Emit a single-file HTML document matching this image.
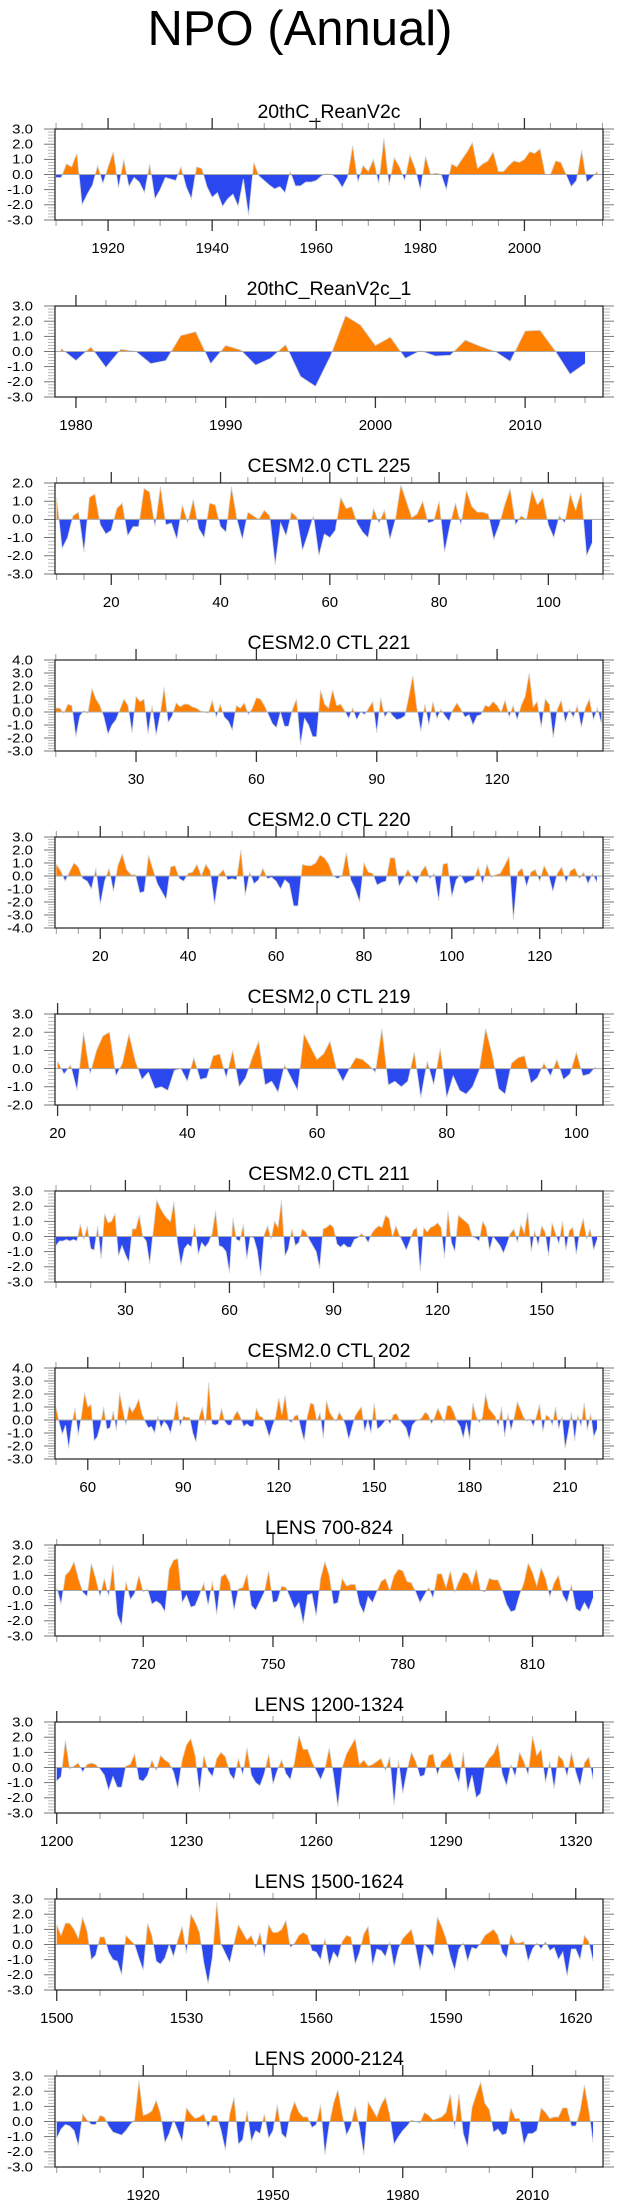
<!DOCTYPE html>
<html><head><meta charset="utf-8"><title>NPO (Annual)</title>
<style>
html,body{margin:0;padding:0;background:#fff;}
svg{display:block;font-family:"Liberation Sans",Arial,sans-serif;}
</style></head>
<body>
<svg id="chart" width="623" height="2209" viewBox="0 0 623 2209" xmlns="http://www.w3.org/2000/svg">
<text x="300" y="45" font-size="49" text-anchor="middle" fill="#000">NPO (Annual)</text>
</svg>
<script>
const panelTitles = ["20thC_ReanV2c","20thC_ReanV2c_1","CESM2.0 CTL 225","CESM2.0 CTL 221","CESM2.0 CTL 220","CESM2.0 CTL 219","CESM2.0 CTL 211","CESM2.0 CTL 202","LENS 700-824","LENS 1200-1324","LENS 1500-1624","LENS 2000-2124"];
const panelStarts = [1910,1979,10,10,10,20,10,50,700,1200,1500,1900];
const panelXMin = [1909.8,1978.6,9.7,9.8,9.7,19.6,9.7,49.7,699.6,1199.6,1499.6,1899.6];
const panelXMax = [2015.1,2015.2,110,146.4,134.4,104.1,167.7,221.9,826.3,1326.3,1626.3,2026.3];
const panelYMin = [-3,-3,-3,-3,-4,-2,-3,-3,-3,-3,-3,-3];
const panelYMax = [3,3,2,4,3,3,3,4,3,3,3,3];
const panelMajorStep = [20,10,20,30,20,20,30,30,30,30,30,30];
const panelMinorStep = [5,2,5,10,5,5,10,10,10,10,10,10];

const reanV2cValues = [-0.2,-0.2,0.7,0.5,1.4,-2.0,-1.3,-0.7,0.6,-0.6,0.5,1.5,-0.9,1.0,-0.8,-0.2,-0.5,-1.2,0.7,-1.6,-1.0,-0.2,-0.3,-0.4,0.5,-0.8,-1.6,0.5,0.4,-0.8,-1.5,-1.2,-2.1,-1.6,-1.3,-2.1,-0.3,-2.7,0.8,-0.1,-0.4,-0.7,-0.95,-0.8,-1.2,0.2,-0.75,-0.75,-0.5,-0.5,-0.4,-0.1,0.05,0.0,-0.3,-0.85,-0.2,1.9,-0.5,0.6,0.2,1.0,-0.6,2.4,-0.7,1.1,0.5,-0.4,1.3,0.4,-1.0,1.2,0.0,0.1,0.0,-1.0,0.7,0.5,1.0,1.5,2.1,0.4,0.7,0.9,1.5,0.2,0.2,0.6,0.9,0.8,1.0,1.5,1.4,1.7,0.0,0.0,0.9,0.8,0.0,-0.8,-0.4,1.6,-0.5,-0.2,0.2];
const reanV2c1Values = [0.2,-0.6,0.3,-1.05,0.15,0.0,-0.8,-0.6,1.05,1.3,-0.8,0.4,0.1,-0.9,-0.45,0.45,-1.65,-2.3,-0.3,2.35,1.75,0.4,0.95,-0.45,0.05,-0.3,-0.25,0.75,0.35,0.0,-0.65,1.35,1.4,0.05,-1.5,-0.8];
const ctl225Values = [1.2,-1.6,-1.0,0.2,0.4,-1.8,1.2,1.4,-0.3,-0.8,-0.6,0.6,0.9,-0.9,-0.4,-0.4,1.7,1.5,-0.4,1.8,-0.3,-0.2,-1.1,0.8,-0.2,1.1,-0.5,-1.0,0.9,0.8,-0.4,-0.7,1.8,0.0,-1.1,0.4,0.2,0.0,0.5,0.2,-2.5,-0.2,-0.9,0.4,0.1,-1.7,-0.8,0.2,-2.0,-0.8,-1.0,-0.6,1.2,0.6,0.7,-0.2,-0.7,-1.0,0.6,-0.2,0.5,-1.1,0.0,1.9,1.0,0.1,0.3,1.0,-0.2,-0.1,1.0,-1.8,-0.3,0.9,-0.3,1.6,0.7,0.4,0.4,0.3,-1.1,-0.3,0.8,1.7,-0.3,0.2,0.0,1.6,0.8,1.2,-0.3,-1.0,0.2,-0.2,1.4,0.5,1.5,-2.0,-1.3];
const ctl221Values = [0.3,0.3,-0.1,0.6,0.5,-1.9,-0.3,0.1,-0.1,1.8,1.0,0.5,-0.4,-1.7,-1.0,-0.6,0.2,1.0,0.5,-1.6,1.2,0.8,1.0,-1.7,0.5,-1.8,-0.2,1.9,-0.8,-0.3,0.7,0.4,0.6,0.6,0.4,0.3,0.1,0.0,-0.1,0.9,-0.4,0.6,-0.4,-0.7,-1.4,0.5,0.3,0.7,-0.2,0.3,1.1,1.0,0.5,-0.2,-0.9,-1.2,0.0,-1.1,-1.1,0.2,1.0,-2.5,-0.5,-1.0,-1.9,-1.9,1.7,0.6,0.3,1.7,0.5,0.6,0.1,-0.5,0.3,-0.6,0.0,-0.2,0.3,0.8,-1.6,1.1,-0.4,0.1,-0.3,-0.6,-0.5,-0.3,1.2,2.8,0.3,-1.5,0.6,-1.0,0.8,-0.5,0.2,-0.3,-0.7,0.2,0.7,0.2,-0.4,-0.2,-1.0,-0.3,-0.2,0.5,0.4,0.8,0.5,0.0,0.9,-0.4,0.5,-0.6,0.5,1.2,3.0,0.4,0.8,-1.2,1.0,0.6,-2.0,0.2,0.9,-0.8,0.2,-0.4,0.5,-1.2,0.3,1.0,-0.6,0.3,-0.9];
const ctl220Values = [0.9,0.4,-0.4,0.3,1.0,0.7,-0.2,-0.4,-1.0,0.6,-2.2,-0.4,0.6,-1.2,0.8,1.7,0.5,0.1,0.1,-1.3,-1.2,1.6,0.5,-0.6,-1.2,-1.8,0.7,0.8,-0.2,-0.4,0.2,0.3,0.9,0.0,0.9,0.4,-2.2,0.1,0.5,-0.3,-0.2,-0.3,2.0,-1.5,0.3,-0.6,-0.3,0.6,-0.2,-0.1,-0.4,-1.0,-0.3,-0.6,-2.3,-2.3,0.9,0.8,0.8,1.0,1.6,1.4,0.9,0.0,-0.2,0.0,1.8,-0.3,-1.0,-2.0,1.0,0.3,0.2,-0.7,-0.5,-0.4,1.4,1.4,-0.8,-0.2,0.5,-0.1,-0.6,0.3,0.8,-0.2,0.2,-1.9,0.9,1.0,-1.6,-0.3,0.1,-0.6,-0.4,-0.3,0.7,-0.6,0.9,-0.1,0.1,0.2,0.8,1.5,-3.4,0.3,0.6,-0.8,0.3,0.5,-0.4,0.8,0.1,-1.2,0.2,0.7,-0.5,0.4,0.6,-0.2,0.3,-0.6,0.2,-0.5];
const ctl219Values = [0.4,-0.3,0.2,-1.2,2.0,-0.3,1.0,1.8,2.0,-0.4,0.3,1.9,0.4,-0.6,-0.2,-1.1,-1.0,-1.2,-0.1,0.0,-0.7,0.6,-0.6,-0.5,0.7,0.8,-0.5,1.0,-1.0,-0.5,0.6,1.5,-0.9,-0.7,-1.3,0.2,-0.5,-1.2,1.9,1.2,0.5,0.8,1.5,0.0,-0.7,0.0,0.6,0.5,0.2,-0.2,2.2,-0.9,-0.7,-1.0,-0.7,0.9,-1.6,0.4,-0.9,1.1,-1.6,-0.4,-1.2,-1.4,-1.0,-0.1,2.2,0.8,-1.1,-1.4,0.3,0.6,0.7,-0.8,-0.5,0.3,-0.4,0.5,-0.6,-0.3,0.9,-0.4,-0.3,0.1];
const ctl211Values = [-0.6,-0.3,-0.3,-0.2,-0.3,-0.2,-0.3,0.8,-0.2,0.7,-0.8,-0.9,0.7,-1.5,1.5,0.9,1.0,1.5,-1.3,-0.6,-1.2,-1.7,0.5,0.5,1.4,0.0,-0.3,-1.8,0.3,2.4,1.9,1.5,1.2,1.0,2.3,-0.4,-1.9,-0.8,-0.5,-0.7,0.8,-1.2,-0.4,-0.7,-0.4,0.2,1.7,-0.6,-0.7,-1.0,-2.4,1.2,-0.2,-0.3,0.8,-1.5,0.0,-0.1,-0.9,-2.6,0.1,0.7,-0.2,1.0,0.6,2.4,-1.3,-0.8,0.5,-0.6,-0.4,0.5,0.3,-0.2,-0.6,-1.0,-2.1,0.5,0.6,0.8,0.6,-0.5,-0.7,-0.5,-0.7,-0.7,-0.2,-0.1,0.2,0.0,-0.4,0.2,0.5,0.7,0.6,1.4,1.2,0.0,0.7,0.1,-0.4,-0.9,-0.3,0.4,0.6,-2.3,0.6,0.3,0.6,0.7,0.9,0.6,-1.4,1.7,-0.4,-1.0,1.4,1.2,1.0,0.8,0.0,-0.1,-0.3,1.0,0.6,-0.9,0.0,-0.3,-0.6,-1.1,-0.5,0.2,0.5,-0.4,0.8,0.2,1.6,-1.0,0.4,-0.6,0.7,0.3,-1.3,0.9,0.2,-0.5,1.0,-0.9,0.4,0.6,-1.2,0.3,1.2,-0.2,0.5,-0.9,-0.2];
const ctl202Values = [1.0,-0.2,-1.1,-0.4,-2.2,-0.3,0.9,-1.2,0.3,2.1,1.0,1.2,-1.6,-1.3,-0.4,1.0,-0.7,-0.6,0.7,-0.8,2.1,0.8,-0.4,1.1,0.6,1.0,1.6,0.5,-0.1,-0.6,-0.5,-1.0,0.3,-0.6,-0.1,-0.4,-1.0,0.1,1.5,-0.5,0.3,0.2,0.2,-1.0,-1.7,0.2,1.0,-0.4,2.9,-0.3,-0.4,-0.3,0.9,-0.1,-0.4,-0.4,0.3,0.7,0.2,-0.5,-0.3,-0.5,-0.5,0.9,0.3,0.2,-0.5,-1.3,-0.5,0.2,1.7,0.4,1.9,0.0,-0.2,0.3,0.4,-0.7,-1.6,0.3,1.3,1.2,-0.1,0.6,-1.4,1.5,0.6,0.2,-0.1,0.6,0.2,-0.4,-1.5,-0.6,0.3,0.7,1.0,-0.9,0.0,-1.0,1.3,-0.7,-0.5,-0.2,0.1,-0.3,0.4,0.5,0.0,-0.3,-0.6,-1.5,-0.4,-0.1,0.0,0.2,0.6,0.4,-0.3,0.2,0.9,0.4,-0.2,1.1,1.1,0.6,-0.1,-0.5,-1.4,-0.2,-1.5,1.3,0.3,-0.2,0.2,2.0,0.9,0.6,0.3,-0.5,1.0,-1.3,0.5,-0.8,0.2,1.4,0.8,0.2,-0.1,0.1,-0.5,0.3,1.2,-0.9,0.4,0.2,-0.4,1.0,-0.7,0.3,-2.2,-0.9,0.6,-1.6,0.4,-0.5,1.3,-0.8,0.5,-1.3,-0.7];
const lens700Values = [0.2,-0.9,1.0,1.3,1.9,0.8,-0.1,-0.4,1.8,0.8,-0.4,0.8,-0.4,1.7,-1.6,-2.3,0.6,-0.6,-0.2,1.0,-0.1,0.1,-0.9,-0.7,-0.9,-1.4,1.4,2.0,2.1,-0.8,-0.3,-1.1,-1.0,-0.3,0.5,-1.0,0.6,-1.6,0.9,1.1,0.5,-1.3,0.1,0.2,1.1,-1.0,-1.3,-0.7,-0.1,1.3,-0.8,-0.7,0.3,0.2,-0.5,-1.2,-0.8,-2.2,-0.3,-0.2,-1.7,0.8,1.9,1.0,-0.9,-0.8,0.8,0.3,0.4,0.4,-0.9,-1.5,-0.4,-0.8,-0.1,0.6,0.8,0.0,1.0,1.4,1.3,0.6,0.5,-0.1,-0.8,-0.3,0.2,-0.5,1.1,1.1,0.2,1.3,-0.1,0.6,1.2,1.1,0.4,1.4,0.0,-0.1,0.8,0.7,0.7,0.0,-0.9,-1.4,-1.3,-0.3,0.5,1.8,1.2,0.3,1.5,0.8,-0.4,0.5,1.0,-0.3,-0.8,0.4,-1.2,-1.4,-0.8,-1.3,-0.5];
const lens1200Values = [-0.9,-0.6,1.8,-0.1,0.1,0.3,-0.3,0.2,0.3,0.2,-0.1,-0.5,-1.5,-0.6,-1.3,-1.3,0.1,0.2,0.9,-0.8,-0.9,-0.5,0.5,-0.2,0.8,0.5,0.3,-0.3,-1.4,0.5,1.5,1.9,0.8,-1.6,0.8,-0.2,-0.6,0.6,1.0,0.7,-0.4,-0.8,0.6,-0.5,1.3,-0.5,-1.0,-1.2,-0.4,0.9,-1.1,-0.2,0.5,-0.4,-0.8,0.4,2.1,1.2,1.2,0.4,-0.2,-0.8,-0.1,1.3,-0.5,-2.6,0.0,0.9,1.4,1.9,0.2,0.5,0.1,0.2,0.4,0.6,-0.2,0.7,-2.5,0.5,-1.7,-0.2,1.0,0.4,-0.6,-0.5,0.8,0.9,-0.5,0.4,0.6,1.0,-0.2,-1.0,1.0,-1.6,-0.5,-2.0,-1.7,0.1,0.6,0.9,1.6,-0.4,-1.2,0.2,-0.6,1.0,0.4,-0.5,2.1,0.8,1.2,-1.0,0.4,-1.4,0.8,0.5,-0.6,1.0,-0.3,-1.2,0.3,0.7,-0.8];
const lens1500Values = [1.3,0.6,1.4,1.4,1.0,0.4,1.8,0.9,-1.0,-0.7,0.5,0.5,-0.5,-1.0,-1.1,-2.0,0.6,0.3,0.0,-0.9,-1.7,1.4,0.6,-1.1,-1.3,-0.9,0.0,-0.8,0.3,1.2,-0.6,2.0,1.5,0.8,-1.2,-2.6,-0.8,2.8,0.0,-0.6,-1.2,0.1,1.3,0.8,0.3,0.6,-0.2,0.8,-0.8,1.3,0.8,0.8,1.0,1.6,-0.2,0.1,0.6,0.8,0.6,-0.4,-0.5,-1.0,0.4,-1.4,-0.5,-0.9,0.2,0.6,0.5,-1.3,-0.5,0.7,1.2,-1.4,-0.3,-0.4,-0.8,0.2,-1.5,-0.3,0.4,0.7,1.0,-0.2,-1.7,0.0,-0.3,-0.8,1.8,1.2,0.4,-0.8,-1.7,-0.3,0.1,-1.1,-0.2,-0.3,0.1,0.6,0.8,1.0,0.6,-0.5,-0.9,0.7,0.1,0.1,0.2,-1.1,-0.3,0.1,-0.3,0.2,-0.4,-0.2,-1.0,-0.5,-2.1,-0.3,-0.3,-1.0,0.6,0.2,-1.1];
const lens2000Values = [-1.1,-0.5,-0.2,-0.3,-0.6,-1.6,0.5,0.1,-0.2,-0.2,0.4,0.3,-0.3,-0.7,-0.8,-0.9,-0.6,-0.2,0.1,2.7,0.4,0.5,0.7,1.4,0.5,-1.4,-0.8,0.1,-0.6,-1.3,0.9,0.5,0.2,0.3,0.5,-0.4,0.4,0.4,-0.6,-1.9,0.5,1.6,-1.5,-1.2,0.7,-1.3,-0.6,-0.8,0.5,-1.1,-0.6,1.1,-0.8,-1.1,0.5,1.3,0.6,0.3,0.3,-0.4,-0.2,1.1,-2.2,-0.2,1.2,2.1,0.5,-0.9,-0.3,1.0,-0.4,-2.2,1.3,0.8,0.3,1.1,1.6,0.4,-1.5,-1.0,-0.6,-0.3,0.1,0.0,-0.1,0.6,0.4,0.1,0.2,0.3,0.6,1.8,-0.5,1.8,-0.8,-1.7,0.9,1.8,2.6,1.2,0.8,-0.7,-0.5,-0.9,-0.8,0.9,0.2,0.2,-1.5,-0.8,-0.8,-0.6,0.9,0.6,0.2,0.3,0.3,0.9,0.9,-0.3,-0.3,0.7,2.4,0.8,-1.4];

const panelValues = [reanV2cValues,reanV2c1Values,ctl225Values,ctl221Values,ctl220Values,ctl219Values,ctl211Values,ctl202Values,lens700Values,lens1200Values,lens1500Values,lens2000Values];

const NS = "http://www.w3.org/2000/svg";
const svg = document.getElementById("chart");
function mk(tag, attrs, parent) {
  const e = document.createElementNS(NS, tag);
  for (const k in attrs) e.setAttribute(k, attrs[k]);
  (parent || svg).appendChild(e);
  return e;
}
const L = 55, W = 548, H = 91;
for (let p = 0; p < panelTitles.length; p++) {
  const top = 129 + 177 * p;
  const xmin = panelXMin[p], xmax = panelXMax[p], ymin = panelYMin[p], ymax = panelYMax[p];
  const sx = v => L + (v - xmin) / (xmax - xmin) * W;
  const sy = v => top + (ymax - v) / (ymax - ymin) * H;
  const g = mk("g", {});
  
  

  const t = mk("text", {x: L + W / 2, y: top - 11, "font-size": 19.5, "text-anchor": "middle", fill: "#000"}, g);
  
  
  t.textContent = panelTitles[p];

  const vals = panelValues[p], start = panelStarts[p];
  const z = sy(0);
  let pts = sx(start).toFixed(2) + "," + z.toFixed(2);
  let line = "";
  for (let i = 0; i < vals.length; i++) {
    const xy = sx(start + i).toFixed(2) + "," + sy(vals[i]).toFixed(2);
    pts += " " + xy; line += xy + " ";
  }
  pts += " " + sx(start + vals.length - 1).toFixed(2) + "," + z.toFixed(2);

  const cpA = mk("clipPath", {id: "ca" + p}, g);
  mk("rect", {x: L, y: top, width: W, height: z - top}, cpA);
  const cpB = mk("clipPath", {id: "cb" + p}, g);
  mk("rect", {x: L, y: z, width: W, height: top + H - z}, cpB);

  const pos = mk("polygon", {points: pts, fill: "#ff8000", "clip-path": "url(#ca" + p + ")"}, g);
  
  
  const neg = mk("polygon", {points: pts, fill: "#2b47ee", "clip-path": "url(#cb" + p + ")"}, g);
  
  
  const ln = mk("polyline", {points: line, fill: "none", stroke: "#d4d4d4", "stroke-width": 0.8}, g);
  
  

  const zl = mk("line", {x1: L, x2: L + W, y1: z, y2: z, stroke: "#aaaaaa", "stroke-width": 1}, g);
  
  

  for (let k = Math.round(ymin * 5); k <= Math.round(ymax * 5); k++) {
    const v = k / 5, yy = sy(v);
    const major = k % 5 === 0;
    const len = major ? 11 : 7;
    mk("line", {x1: L - len, x2: L, y1: yy, y2: yy, stroke: major ? "#555" : "#aaa", "stroke-width": 0.8}, g);
    mk("line", {x1: L + W, x2: L + W + len, y1: yy, y2: yy, stroke: major ? "#555" : "#aaa", "stroke-width": 0.8}, g);
    if (major) {
      const yl = mk("text", {transform: "translate(33," + (yy + 4.3).toFixed(2) + ") scale(1.2,1)", "font-size": 12.5, "text-anchor": "end", fill: "#000"}, g);
      
      
      yl.textContent = v.toFixed(1);
    }
  }
  const mn = panelMinorStep[p], mj = panelMajorStep[p];
  for (let v = Math.ceil(xmin / mn) * mn; v <= xmax; v += mn) {
    const xx = sx(v);
    const major = v % mj === 0;
    const len = major ? 11 : 6;
    mk("line", {x1: xx, x2: xx, y1: top, y2: top - len, stroke: major ? "#333" : "#999", "stroke-width": major ? 1.3 : 1}, g);
    mk("line", {x1: xx, x2: xx, y1: top + H, y2: top + H + len, stroke: major ? "#333" : "#999", "stroke-width": major ? 1.3 : 1}, g);
    if (major) {
      const xl = mk("text", {x: xx, y: top + H + 33, "font-size": 15, "text-anchor": "middle", fill: "#000"}, g);
      
      
      xl.textContent = String(v);
    }
  }
  const box = mk("rect", {x: L, y: top, width: W, height: H, fill: "none", stroke: "#222", "stroke-width": 1.2}, g);
  
  
}
</script>
</body></html>
